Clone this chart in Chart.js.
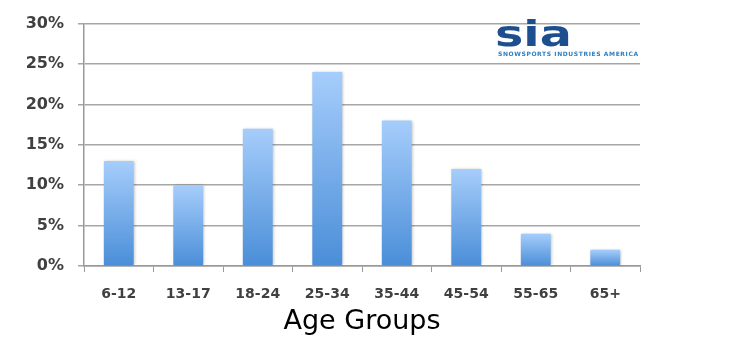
<!DOCTYPE html>
<html>
<head>
<meta charset="utf-8">
<script src="https://cdn.jsdelivr.net/npm/chart.js@4/dist/chart.umd.min.js"></script>
<style>
  html, body { margin: 0; padding: 0; background: #fff; }
  #wrap { width: 736px; height: 360px; position: relative; }
</style>
</head>
<body>
<div id="wrap"><canvas id="chart" width="736" height="360"></canvas></div>
<script>
const ageGroups = ["6-12", "13-17", "18-24", "25-34", "35-44", "45-54", "55-65", "65+"];
const shares = [13, 10, 17, 24, 18, 12, 4, 2];
const yTicks = [0, 5, 10, 15, 20, 25, 30];

// each bar gets its own gradient, light at its top, darker at its base
function barFill(context) {
  const chart = context.chart;
  const area = chart.chartArea;
  if (!area || context.raw == null) return "#7fb2ec";
  const top = chart.scales.y.getPixelForValue(context.raw);
  const g = chart.ctx.createLinearGradient(0, top, 0, area.bottom);
  g.addColorStop(0, "#a6cdfb");
  g.addColorStop(1, "#4a8ed8");
  return g;
}

// soft grey edge round the bars
const shadowPlugin = {
  id: "barShadow",
  beforeDatasetsDraw(chart) {
    const ctx = chart.ctx;
    ctx.save();
    ctx.shadowColor = "rgba(0,0,0,0.28)";
    ctx.shadowBlur = 3;
    ctx.shadowOffsetX = 1;
    ctx.shadowOffsetY = 0;
  },
  afterDatasetsDraw(chart) {
    chart.ctx.restore();
  }
};

// SIA logo in the top right corner
const logoPlugin = {
  id: "siaLogo",
  afterDraw(chart) {
    const ctx = chart.ctx;
    ctx.save();
    ctx.fillStyle = "#1d4f8f";
    ctx.font = "bold 35px 'DejaVu Sans'";
    ctx.textAlign = "left";
    ctx.textBaseline = "alphabetic";
    ctx.translate(495, 46);
    ctx.scale(1.36, 1);
    ctx.fillText("sia", 0, 0);
    ctx.restore();
    ctx.save();
    ctx.fillStyle = "#2a7fc4";
    ctx.font = "bold 6px 'DejaVu Sans'";
    ctx.letterSpacing = "0.6px";
    ctx.textAlign = "left";
    ctx.fillText("SNOWSPORTS INDUSTRIES AMERICA", 498, 56);
    ctx.restore();
  }
};

new Chart(document.getElementById("chart"), {
  type: "bar",
  data: {
    labels: ageGroups,
    datasets: [{
      data: shares,
      backgroundColor: barFill,
      borderWidth: 0,
      categoryPercentage: 0.86,
      barPercentage: 0.5
    }]
  },
  options: {
    responsive: false,
    animation: false,
    layout: { padding: { top: 14, right: 96, bottom: 22, left: 0 } },
    plugins: { legend: { display: false }, tooltip: { enabled: false } },
    scales: {
      x: {
        afterFit(scale) { scale.height = 72; },
        grid: { display: true, drawOnChartArea: false, color: "#999", tickLength: 6, offset: true },
        border: { color: "#999", width: 1.5 },
        ticks: { color: "#404040", font: { family: "'DejaVu Sans'", size: 14, weight: "bold" }, padding: 14 },
        title: { display: true, text: "Age Groups", color: "#000", font: { family: "'DejaVu Sans'", size: 27 }, padding: { top: 4, bottom: 0 } }
      },
      y: {
        min: 0,
        max: 30,
        afterFit(scale) { scale.width = 84; },
        afterBuildTicks(scale) { scale.ticks = yTicks.map(v => ({ value: v })); },
        grid: { color: "#a6a6a6", lineWidth: 1.5, tickLength: 6 },
        border: { color: "#999", width: 1.5 },
        ticks: {
          color: "#404040",
          font: { family: "'DejaVu Sans'", size: 16, weight: "bold" },
          padding: 14,
          callback: v => v + "%"
        }
      }
    }
  },
  plugins: [shadowPlugin, logoPlugin]
});
</script>
</body>
</html>
